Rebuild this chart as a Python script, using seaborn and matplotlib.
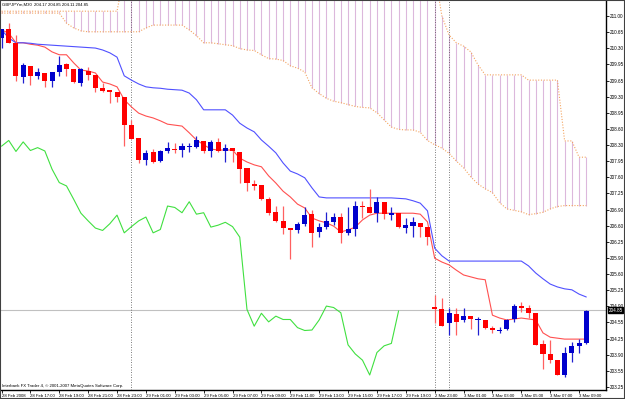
import numpy as np
import pandas as pd
import matplotlib
matplotlib.use("Agg")
import matplotlib.pyplot as plt
import matplotlib.transforms as mtrans
from matplotlib.patches import Rectangle
import seaborn as sns

# GBPJPYm M30 candles, 28 Feb 15:00 -> 3 Mar 09:30 (82 bars)
opens = [210.53, 210.72, 210.44, 209.73, 209.96, 209.75, 209.80, 209.64, 209.82, 209.99,
         209.89, 209.61, 209.86, 209.77, 209.49, 209.45, 209.42, 209.31, 208.72, 208.45,
         207.99, 208.16, 207.97, 208.19, 208.23, 208.20, 208.26, 208.27, 208.39, 208.17,
         208.37, 208.19, 208.24, 208.16, 207.82, 207.50, 207.47, 207.18, 206.90, 206.72,
         206.58, 206.52, 206.66, 206.86, 206.49, 206.59, 206.70, 206.80, 206.47, 206.54,
         207.03, 207.02, 206.88, 207.12, 206.84, 206.89, 206.57, 206.62, 206.68, 206.59,
         204.93, 204.87, 204.58, 204.78, 204.65, 204.73, 204.64, 204.65, 204.48, 204.41,
         204.46, 204.66, 204.94, 204.91, 204.80, 204.15, 203.94, 203.81, 203.50, 203.97,
         204.11, 204.16]
highs = [210.72, 210.86, 210.60, 210.02, 209.96, 209.91, 209.80, 209.82, 210.17, 210.02,
         209.89, 209.91, 209.93, 209.77, 209.59, 209.45, 209.42, 209.31, 208.83, 208.45,
         208.20, 208.22, 208.20, 208.36, 208.35, 208.35, 208.35, 208.49, 208.39, 208.41,
         208.45, 208.32, 208.24, 208.16, 207.82, 207.57, 207.47, 207.22, 207.03, 207.03,
         206.58, 206.70, 207.02, 206.95, 206.68, 206.91, 206.89, 206.88, 207.02, 207.14,
         207.14, 207.38, 207.22, 207.12, 207.00, 206.89, 206.79, 206.80, 206.68, 206.60,
         205.17, 205.10, 204.91, 204.89, 204.91, 204.73, 204.71, 204.65, 204.52, 204.51,
         204.66, 204.98, 205.03, 204.96, 204.80, 204.23, 204.23, 203.81, 204.09, 204.20,
         204.25, 204.86]
lows = [210.33, 210.43, 209.64, 209.61, 209.56, 209.68, 209.52, 209.52, 209.75, 209.75,
        209.59, 209.54, 209.66, 209.42, 209.42, 209.18, 209.21, 208.28, 208.42, 207.93,
        207.89, 207.92, 207.94, 208.13, 208.13, 208.06, 208.16, 208.24, 208.13, 208.06,
        208.16, 207.94, 207.96, 207.52, 207.35, 207.37, 207.16, 206.84, 206.70, 206.45,
        205.92, 206.46, 206.61, 206.18, 206.39, 206.54, 206.63, 206.25, 206.43, 206.40,
        206.77, 206.88, 206.70, 206.75, 206.74, 206.57, 206.46, 206.39, 206.39, 206.22,
        204.58, 204.52, 204.34, 204.34, 204.61, 204.46, 204.34, 204.46, 204.37, 204.38,
        204.44, 204.60, 204.82, 204.69, 204.13, 203.62, 203.76, 203.50, 203.46, 203.78,
        203.97, 204.15]
closes = [210.72, 210.43, 209.75, 209.98, 209.75, 209.82, 209.64, 209.82, 209.98, 209.89,
          209.63, 209.89, 209.77, 209.50, 209.43, 209.42, 209.31, 208.72, 208.42, 207.99,
          208.14, 207.96, 208.19, 208.25, 208.21, 208.28, 208.28, 208.40, 208.17, 208.37,
          208.19, 208.25, 208.18, 207.80, 207.52, 207.45, 207.17, 206.88, 206.72, 206.57,
          206.52, 206.66, 206.84, 206.47, 206.60, 206.72, 206.80, 206.47, 206.54, 207.03,
          207.00, 206.89, 207.12, 206.86, 206.89, 206.59, 206.63, 206.69, 206.60, 206.38,
          204.87, 204.52, 204.79, 204.61, 204.73, 204.66, 204.66, 204.49, 204.43, 204.44,
          204.65, 204.94, 204.91, 204.80, 204.13, 203.94, 203.81, 203.50, 203.97, 204.11,
          204.16, 204.84]

# Ichimoku lines
tenkan = [210.71, 210.64, 210.44, 210.44, 210.41, 210.39, 210.35, 210.25, 210.19, 210.19,
          210.02, 209.87, 209.85, 209.81, 209.62, 209.58, 209.52, 209.25, 209.10, 208.97,
          208.91, 208.87, 208.81, 208.74, 208.72, 208.70, 208.56, 208.41, 208.31, 208.22,
          208.20, 208.20, 208.20, 208.03, 207.95, 207.89, 207.85, 207.66, 207.51, 207.34,
          207.22, 207.07, 206.99, 206.78, 206.72, 206.68, 206.61, 206.49, 206.53, 206.59,
          206.74, 206.84, 206.88, 206.88, 206.88, 206.88, 206.88, 206.88, 206.86, 206.70,
          205.94, 205.86, 205.80, 205.69, 205.59, 205.55, 205.51, 205.49, 204.75, 204.69,
          204.65, 204.67, 204.69, 204.67, 204.65, 204.38, 204.29, 204.27, 204.25, 204.25,
          204.25, 204.25]
kijun = [210.71, 210.54, 210.44, 210.44, 210.43, 210.41, 210.40, 210.39, 210.38, 210.37,
         210.36, 210.35, 210.34, 210.33, 210.29, 210.23, 210.14, 209.75, 209.66, 209.58,
         209.52, 209.50, 209.49, 209.47, 209.46, 209.45, 209.39, 209.25, 209.04, 209.04,
         209.04, 209.04, 208.93, 208.76, 208.66, 208.58, 208.41, 208.28, 208.14, 207.93,
         207.76, 207.70, 207.62, 207.41, 207.22, 207.20, 207.20, 207.20, 207.20, 207.20,
         207.20, 207.20, 207.20, 207.20, 207.20, 207.19, 207.18, 207.14, 207.09, 206.93,
         206.15, 205.99, 205.88, 205.88, 205.88, 205.88, 205.88, 205.88, 205.88, 205.88,
         205.88, 205.88, 205.88, 205.78, 205.63, 205.51, 205.40, 205.34, 205.30, 205.28,
         205.19, 205.13]
chikou = [208.28, 208.40, 208.17, 208.37, 208.19, 208.25, 208.18, 207.80, 207.52, 207.45,
          207.17, 206.88, 206.72, 206.57, 206.52, 206.66, 206.84, 206.47, 206.60, 206.72,
          206.80, 206.47, 206.54, 207.03, 207.00, 206.89, 207.12, 206.86, 206.89, 206.59,
          206.63, 206.69, 206.60, 206.38, 204.87, 204.52, 204.79, 204.61, 204.73, 204.66,
          204.66, 204.49, 204.43, 204.44, 204.65, 204.94, 204.91, 204.80, 204.13, 203.94,
          203.81, 203.50, 203.97, 204.11, 204.16, 204.84]
span_a = [211.06, 211.06, 211.06, 211.06, 211.06, 211.06, 211.06, 211.06, 211.06, 210.85,
          210.75, 210.69, 210.67, 210.67, 210.67, 210.67, 210.67, 210.67, 210.67, 210.67,
          210.75, 210.81, 210.81, 210.81, 210.81, 210.81, 210.71, 210.59, 210.44, 210.44,
          210.42, 210.40, 210.38, 210.32, 210.29, 210.28, 210.19, 210.11, 210.10, 210.07,
          209.96, 209.91, 209.83, 209.50, 209.38, 209.28, 209.22, 209.19, 209.15, 209.11,
          209.09, 209.08, 208.98, 208.83, 208.68, 208.63, 208.62, 208.62, 208.57, 208.40,
          208.31, 208.24, 208.13, 207.97, 207.83, 207.64, 207.49, 207.39, 207.31, 207.10,
          206.97, 206.94, 206.91, 206.85, 206.87, 206.90, 206.97, 207.02, 207.04, 207.04,
          207.04, 207.04]
# span B sits above the visible range between bars 17 and 60
span_b = [211.10] * 17 + [211.90] * 44 + \
         [211.00, 210.60, 210.44, 210.37, 210.25, 209.98] + [209.77] * 6 + [209.66] * 5 + \
         [208.39, 208.39, 208.05, 208.05]

x_labels = ["28 Feb 2008", "28 Feb 17:00", "28 Feb 19:00", "28 Feb 21:00", "28 Feb 23:00",
            "29 Feb 01:00", "29 Feb 03:00", "29 Feb 05:00", "29 Feb 07:00", "29 Feb 09:00",
            "29 Feb 11:00", "29 Feb 13:00", "29 Feb 15:00", "29 Feb 17:00", "29 Feb 19:00",
            "2 Mar 23:00", "3 Mar 01:00", "3 Mar 03:00", "3 Mar 05:00", "3 Mar 07:00",
            "3 Mar 09:00"]
y_labels = ["211.00", "210.65", "210.30", "209.95", "209.65", "209.30", "208.95", "208.60",
            "208.30", "207.95", "207.60", "207.25", "206.90", "206.60", "206.25", "205.90",
            "205.60", "205.25", "204.90", "204.55", "204.25", "203.90", "203.55", "203.25"]
day_starts = [18, 60, 62]
last_price = 204.85

df = pd.DataFrame({"bar": np.arange(len(closes)), "open": opens, "high": highs,
                   "low": lows, "close": closes, "tenkan": tenkan, "kijun": kijun,
                   "span_a": span_a, "span_b": span_b})
df_chikou = pd.DataFrame({"bar": np.arange(len(chikou)), "chikou": chikou})

sns.set_style("white")
xfont = {"family": ["Liberation Sans", "DejaVu Sans"], "size": 3.1}
yfont = {"family": ["Liberation Sans", "DejaVu Sans"], "size": 3.3}

fig = plt.figure(figsize=(6.25, 3.99), dpi=100)
ax = fig.add_axes([0.0, 9 / 399, 606 / 625, 389 / 399])
ax.set_facecolor("white")

# cloud hatch + dotted spans
ax.vlines(df["bar"], df["span_a"], df["span_b"], colors="#dcb8dc", lw=0.8, zorder=1)
ax.plot(df["bar"], df["span_a"], color="#f4a460", lw=0.8, ls=(0, (1, 1.5)), zorder=2)
ax.plot(df["bar"], df["span_b"], color="#f4a460", lw=0.8, ls=(0, (1, 1.5)), zorder=2)

ax.axhline(last_price, color="#c0c0c0", lw=0.8, zorder=1)
for d in day_starts:
    ax.axvline(d, color="#505050", lw=0.6, ls=(0, (1, 2)), zorder=1)

sns.lineplot(data=df, x="bar", y="tenkan", ax=ax, color="#ff5050", lw=0.8, zorder=3)
sns.lineplot(data=df, x="bar", y="kijun", ax=ax, color="#5050ff", lw=0.8, zorder=3)
sns.lineplot(data=df_chikou, x="bar", y="chikou", ax=ax, color="#40e040", lw=0.8, zorder=3)

up = df["close"] >= df["open"]
body_lo = np.minimum(df["open"], df["close"])
body_h = np.maximum((df["close"] - df["open"]).abs(), 0.02)
ax.vlines(df["bar"][up], df["low"][up], df["high"][up], colors="#2020d0", lw=0.9, zorder=4)
ax.vlines(df["bar"][~up], df["low"][~up], df["high"][~up], colors="#ff6060", lw=0.9, zorder=4)
ax.bar(df["bar"][up], body_h[up], bottom=body_lo[up], width=0.7, color="#0000cc", lw=0, zorder=5)
ax.bar(df["bar"][~up], body_h[~up], bottom=body_lo[~up], width=0.7, color="#ff0000", lw=0, zorder=5)

ax.set_xlim(-0.21, 83.73)
ax.set_ylim(203.187, 211.313)
ax.set_xlabel("")
ax.set_ylabel("")

ax.yaxis.tick_right()
ax.set_yticks(np.linspace(211.00, 203.25, len(y_labels)))
ax.set_yticklabels(y_labels, fontdict=yfont)
ax.set_xticks(np.arange(0, 81, 4))
ax.set_xticklabels(x_labels, fontdict=xfont, ha="left")
ax.tick_params(axis="y", right=True, length=2, width=0.6, pad=0.8, colors="black")
ax.tick_params(axis="x", bottom=True, length=2, width=0.6, pad=0.8, colors="black")

for s in ["top", "left"]:
    ax.spines[s].set_visible(False)
for s in ["right", "bottom"]:
    ax.spines[s].set_color("black")
    ax.spines[s].set_linewidth(1.0)

trans = mtrans.blended_transform_factory(ax.transAxes, ax.transData)
ax.text(1.004, last_price, "204.85", transform=trans, fontdict=yfont, color="white",
        va="center", ha="left", zorder=10,
        bbox=dict(boxstyle="square,pad=0.12", fc="black", ec="black"), clip_on=False)

ax.text(0.004, 0.996, "GBPJPYm,M30  204.17 204.85 204.11 204.85", transform=ax.transAxes,
        fontdict=xfont, va="top", ha="left", color="black")
ax.text(0.004, 0.006, "Interbank FX Trader 4, \u00a9 2001-2007 MetaQuotes Software Corp.",
        transform=ax.transAxes, fontdict=xfont, va="bottom", ha="left", color="black")

fig.patches.append(Rectangle((0, 0), 1, 1, transform=fig.transFigure, fill=False,
                             ec="#404040", lw=1.5, zorder=20))

fig.savefig("out.png", dpi=100, facecolor="white")
